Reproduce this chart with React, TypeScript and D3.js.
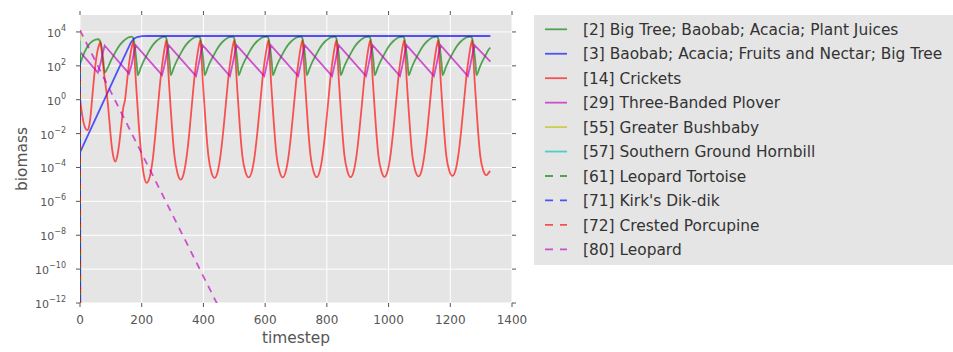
import React, { useRef, useEffect } from "react";
import * as d3 from "d3";

type Pt = [number, number];

// [timestep, biomass]
const bigTree: Pt[] = [
  [0, 126], [10, 400], [20, 1000], [30, 1900], [40, 2800], [50, 3550], [58, 3700], [64, 3160], [70, 1260], [75, 250], [80, 40],
  [90, 79], [100, 200], [110, 447], [120, 955], [130, 1780], [140, 2820], [150, 3980], [160, 4900], [167, 5250], [172, 4470], [176, 2240], [180, 630], [184, 126], [187, 28],
  [197, 79], [207, 200], [217, 447], [227, 955], [237, 1780], [247, 2820], [257, 3980], [267, 4900], [274, 5250], [279, 4470], [283, 2240], [287, 630], [291, 126], [294, 28],
  [304, 79], [314, 200], [324, 447], [334, 955], [344, 1780], [354, 2820], [364, 3980], [374, 4900], [384, 5250], [389, 4470], [393, 2240], [397, 630], [401, 126], [404, 28],
  [414, 79], [424, 200], [434, 447], [444, 955], [454, 1780], [464, 2820], [474, 3980], [484, 4900], [494, 5250], [499, 4470], [503, 2240], [507, 630], [511, 126], [514, 28],
  [524, 79], [534, 200], [544, 447], [554, 955], [564, 1780], [574, 2820], [584, 3980], [594, 4900], [605, 5250], [610, 4470], [614, 2240], [618, 630], [622, 126], [625, 28],
  [635, 79], [645, 200], [655, 447], [665, 955], [675, 1780], [685, 2820], [695, 3980], [705, 4900], [715, 5250], [720, 4470], [724, 2240], [728, 630], [732, 126], [735, 28],
  [745, 79], [755, 200], [765, 447], [775, 955], [785, 1780], [795, 2820], [805, 3980], [815, 4900], [825, 5250], [830, 4470], [834, 2240], [838, 630], [842, 126], [845, 28],
  [855, 79], [865, 200], [875, 447], [885, 955], [895, 1780], [905, 2820], [915, 3980], [925, 4900], [935, 5250], [940, 4470], [944, 2240], [948, 630], [952, 126], [955, 28],
  [965, 79], [975, 200], [985, 447], [995, 955], [1005, 1780], [1015, 2820], [1025, 3980], [1035, 4900], [1045, 5250], [1050, 4470], [1054, 2240], [1058, 630], [1062, 126], [1065, 28],
  [1075, 79], [1085, 200], [1095, 447], [1105, 955], [1115, 1780], [1125, 2820], [1135, 3980], [1145, 4900], [1155, 5250], [1160, 4470], [1164, 2240], [1168, 630], [1172, 126], [1175, 28],
  [1185, 79], [1195, 200], [1205, 447], [1215, 955], [1225, 1780], [1235, 2820], [1245, 3980], [1255, 4900], [1265, 5250], [1270, 4470], [1274, 2240], [1278, 630], [1282, 126], [1285, 28],
  [1295, 79], [1305, 200], [1315, 447], [1325, 955], [1330, 1200],
];

const baobab: Pt[] = [
  [0, 7.9e-4], [79, 1], [120, 42], [150, 630], [165, 2400], [175, 4000], [185, 5000], [200, 5600], [220, 5750], [1330, 5750],
];

const crickets: Pt[] = [
  [0, 1.4], [4, 0.32], [8, 0.1], [13, 0.035], [18, 0.02], [24, 0.016], [29, 0.025], [34, 0.1], [39, 1], [45, 16], [51, 160], [57, 800], [62, 1780], [66, 2600],
  [70, 800], [74, 160], [79, 25], [84, 5], [89, 1], [95, 0.063], [102, 2.5e-3], [108, 4.5e-4], [114, 2.2e-4], [120, 4e-4], [127, 2.5e-3], [134, 0.032], [140, 0.32], [146, 1], [152, 10], [158, 100], [164, 560], [169, 1580], [173, 2800],
  [177, 250], [181, 12.6], [185, 1], [191, 0.025], [199, 5e-4], [207, 3.5e-5], [216, 1.23e-5], [226, 2.8e-5], [236, 3.2e-4], [244, 8e-3], [254, 0.8], [262, 25], [270, 355], [276, 1580], [280, 3160],
  [284, 250], [288, 12.6], [292, 1], [298, 0.025], [306, 5e-4], [316, 4.5e-5], [326, 1.9e-5], [336, 4.3e-5], [346, 5e-4], [354, 0.01], [364, 1], [372, 32], [380, 400], [386, 1780], [390, 3160],
  [394, 250], [398, 12.6], [402, 1], [408, 0.025], [416, 5e-4], [426, 5e-5], [436, 2.4e-5], [446, 5.4e-5], [456, 6.3e-4], [464, 0.0126], [474, 1], [482, 32], [490, 400], [496, 1780], [500, 3160],
  [504, 250], [508, 12.6], [512, 1], [518, 0.025], [526, 5e-4], [536, 5.6e-5], [547, 2.6e-5], [557, 5.9e-5], [567, 6.6e-4], [575, 0.013], [585, 1], [593, 32], [601, 400], [607, 1780], [611, 3160],
  [615, 250], [619, 12.6], [623, 1], [629, 0.025], [637, 5e-4], [647, 5.6e-5], [657, 2.6e-5], [667, 5.9e-5], [677, 6.6e-4], [685, 0.013], [695, 1], [703, 32], [711, 400], [717, 1780], [721, 3160],
  [725, 250], [729, 12.6], [733, 1], [739, 0.025], [747, 5e-4], [757, 5.6e-5], [767, 2.7e-5], [777, 6e-5], [787, 6.6e-4], [795, 0.013], [805, 1], [813, 32], [821, 400], [827, 1780], [831, 3160],
  [835, 250], [839, 12.6], [843, 1], [849, 0.025], [857, 5e-4], [867, 5.6e-5], [877, 2.7e-5], [887, 6e-5], [897, 6.6e-4], [905, 0.013], [915, 1], [923, 32], [931, 400], [937, 1780], [941, 3160],
  [945, 250], [949, 12.6], [953, 1], [959, 0.025], [967, 5e-4], [977, 5.8e-5], [987, 2.8e-5], [997, 6.2e-5], [1007, 6.8e-4], [1015, 0.013], [1025, 1], [1033, 32], [1041, 400], [1047, 1780], [1051, 3160],
  [1055, 250], [1059, 12.6], [1063, 1], [1069, 0.025], [1077, 5e-4], [1087, 6e-5], [1097, 3e-5], [1107, 6.5e-5], [1117, 7e-4], [1125, 0.013], [1135, 1], [1143, 32], [1151, 400], [1157, 1780], [1161, 3160],
  [1165, 250], [1169, 12.6], [1173, 1], [1179, 0.025], [1187, 5e-4], [1197, 6.2e-5], [1207, 3.2e-5], [1217, 6.8e-5], [1227, 7e-4], [1235, 0.013], [1245, 1], [1253, 32], [1261, 400], [1267, 1780], [1271, 3160],
  [1275, 250], [1279, 12.6], [1283, 1], [1289, 0.025], [1297, 5e-4], [1307, 6.5e-5], [1317, 3.5e-5], [1323, 4.5e-5], [1329, 6.3e-5],
];

const plover: Pt[] = [
  [0, 660], [58, 40], [66, 126], [73, 500], [80, 1580],
  [159, 35], [167, 112], [174, 500], [181, 1620],
  [266, 28], [274, 112], [281, 500], [288, 1620],
  [376, 25], [384, 112], [391, 500], [398, 1620],
  [486, 25], [494, 112], [501, 500], [508, 1620],
  [597, 25], [605, 112], [612, 500], [619, 1620],
  [707, 25], [715, 112], [722, 500], [729, 1620],
  [817, 25], [825, 112], [832, 500], [839, 1620],
  [927, 25], [935, 112], [942, 500], [949, 1620],
  [1037, 25], [1045, 112], [1052, 500], [1059, 1620],
  [1147, 25], [1155, 112], [1162, 500], [1169, 1620],
  [1257, 25], [1265, 112], [1272, 500], [1279, 1620],
  [1330, 178],
];

// species that die out right after the first step
const bushbaby: Pt[] = [[0, 1.2e4], [1, 1e-20]];
const hornbill: Pt[] = [[0, 3000], [1, 1e-20]];
const tortoise: Pt[] = [[0, 500], [1, 1e-20]];
const dikdik: Pt[] = [[0, 200], [1, 1e-20]];
const porcupine: Pt[] = [[0, 100], [1, 1e-20]];
const leopard: Pt[] = [[0, 1.26e4], [500, 8.5e-15]];

const series = [
  { label: "[2] Big Tree; Baobab; Acacia; Plant Juices", color: "#008000", dashed: false, smooth: true, data: bigTree },
  { label: "[3] Baobab; Acacia; Fruits and Nectar; Big Tree", color: "#0000ff", dashed: false, smooth: false, data: baobab },
  { label: "[14] Crickets", color: "#ff0000", dashed: false, smooth: true, data: crickets },
  { label: "[29] Three-Banded Plover", color: "#bf00bf", dashed: false, smooth: false, data: plover },
  { label: "[55] Greater Bushbaby", color: "#bfbf00", dashed: false, smooth: false, data: bushbaby },
  { label: "[57] Southern Ground Hornbill", color: "#00bfbf", dashed: false, smooth: false, data: hornbill },
  { label: "[61] Leopard Tortoise", color: "#008000", dashed: true, smooth: false, data: tortoise },
  { label: "[71] Kirk's Dik-dik", color: "#0000ff", dashed: true, smooth: false, data: dikdik },
  { label: "[72] Crested Porcupine", color: "#ff0000", dashed: true, smooth: false, data: porcupine },
  { label: "[80] Leopard", color: "#bf00bf", dashed: true, smooth: false, data: leopard },
];

const xTicks = [0, 200, 400, 600, 800, 1000, 1200, 1400];
const yTickExps = [-12, -10, -8, -6, -4, -2, 0, 2, 4];

const App = () => {
  const svgRef = useRef<SVGSVGElement>(null);
  const width = 953;
  const height = 352;

  useEffect(() => {
    const svg = d3.select(svgRef.current);
    svg.selectAll("*").remove();

    const margin = { top: 15, left: 80 };
    const plotW = 432;
    const plotH = 288;
    const font = "'DejaVu Sans', sans-serif";
    const gray = "#555555";

    const x = d3.scaleLinear().domain([0, 1400]).range([0, plotW]);
    const y = d3.scaleLog().domain([1e-12, 1e5]).range([plotH, 0]);

    const g = svg.append("g").attr("transform", `translate(${margin.left},${margin.top})`);

    g.append("rect").attr("width", plotW).attr("height", plotH).attr("fill", "#e5e5e5");

    // grid
    g.selectAll(".gx")
      .data(xTicks)
      .enter()
      .append("line")
      .attr("x1", (d) => x(d))
      .attr("x2", (d) => x(d))
      .attr("y1", 0)
      .attr("y2", plotH)
      .attr("stroke", "#ffffff")
      .attr("stroke-width", 1);
    g.selectAll(".gy")
      .data(yTickExps)
      .enter()
      .append("line")
      .attr("x1", 0)
      .attr("x2", plotW)
      .attr("y1", (d) => y(Math.pow(10, d)))
      .attr("y2", (d) => y(Math.pow(10, d)))
      .attr("stroke", "#ffffff")
      .attr("stroke-width", 1);

    // tick marks on all four sides, pointing outwards
    const tickLen = 4;
    xTicks.forEach((t) => {
      g.append("line").attr("x1", x(t)).attr("x2", x(t)).attr("y1", plotH).attr("y2", plotH + tickLen).attr("stroke", gray);
      g.append("line").attr("x1", x(t)).attr("x2", x(t)).attr("y1", 0).attr("y2", -tickLen).attr("stroke", gray);
    });
    yTickExps.forEach((e) => {
      const yy = y(Math.pow(10, e));
      g.append("line").attr("x1", 0).attr("x2", -tickLen).attr("y1", yy).attr("y2", yy).attr("stroke", gray);
      g.append("line").attr("x1", plotW).attr("x2", plotW + tickLen).attr("y1", yy).attr("y2", yy).attr("stroke", gray);
    });

    // tick labels
    g.selectAll(".xl")
      .data(xTicks)
      .enter()
      .append("text")
      .attr("x", (d) => x(d))
      .attr("y", plotH + 21)
      .attr("text-anchor", "middle")
      .attr("font-family", font)
      .attr("font-size", 12)
      .attr("fill", gray)
      .text((d) => d);

    yTickExps.forEach((e) => {
      const t = g
        .append("text")
        .attr("x", -14)
        .attr("y", y(Math.pow(10, e)) + 5)
        .attr("text-anchor", "end")
        .attr("font-family", font)
        .attr("fill", gray);
      t.append("tspan").attr("font-size", 11).text("10");
      t.append("tspan")
        .attr("font-size", 8)
        .attr("dy", -6)
        .text(e < 0 ? `\u2212${-e}` : `${e}`);
    });

    // axis labels
    svg
      .append("text")
      .attr("x", margin.left + plotW / 2)
      .attr("y", 343)
      .attr("text-anchor", "middle")
      .attr("font-family", font)
      .attr("font-size", 15.4)
      .attr("fill", gray)
      .text("timestep");
    svg
      .append("text")
      .attr("transform", `translate(26.5,${margin.top + plotH / 2}) rotate(-90)`)
      .attr("text-anchor", "middle")
      .attr("font-family", font)
      .attr("font-size", 15.4)
      .attr("fill", gray)
      .text("biomass");

    // lines
    g.append("clipPath").attr("id", "plotclip").append("rect").attr("width", plotW).attr("height", plotH);
    const lines = g.append("g").attr("clip-path", "url(#plotclip)");

    series.forEach((s) => {
      const line = d3
        .line<Pt>()
        .x((d) => x(d[0]))
        .y((d) => y(d[1]))
        .curve(s.smooth ? d3.curveMonotoneX : d3.curveLinear);
      lines
        .append("path")
        .datum(s.data)
        .attr("fill", "none")
        .attr("stroke", s.color)
        .attr("stroke-opacity", 0.65)
        .attr("stroke-width", 1.8)
        .attr("stroke-dasharray", s.dashed ? "7,6" : null)
        .attr("d", line);
    });

    // legend
    const lg = svg.append("g").attr("transform", "translate(534,15)");
    lg.append("rect").attr("width", 440).attr("height", 250).attr("fill", "#e5e5e5");
    series.forEach((s, i) => {
      const cy = 14.3 + i * 24.45;
      lg.append("line")
        .attr("x1", 11)
        .attr("x2", 33)
        .attr("y1", cy)
        .attr("y2", cy)
        .attr("stroke", s.color)
        .attr("stroke-opacity", 0.65)
        .attr("stroke-width", 1.8)
        .attr("stroke-dasharray", s.dashed ? "8,7" : null);
      lg.append("text")
        .attr("x", 49)
        .attr("y", cy + 5.6)
        .attr("font-family", font)
        .attr("font-size", 15.4)
        .attr("fill", "#333333")
        .text(s.label);
    });
  }, []);

  return (
    <div style={{ position: "absolute", left: 0, top: 0 }}>
      <svg ref={svgRef} width={width} height={height}></svg>
    </div>
  );
};

export default App;
